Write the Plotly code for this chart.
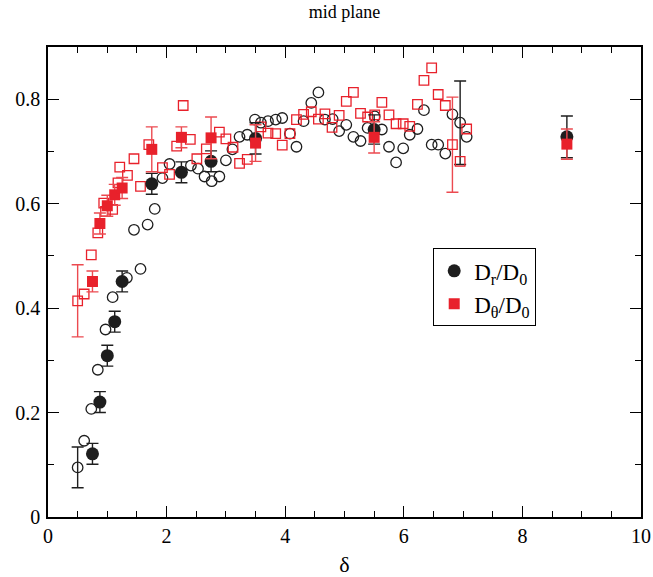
import plotly.graph_objects as go

# --- D_r / D_0 : individual measurements (open circles) ---
r_open_x = [0.50, 0.61, 0.73, 0.84, 0.97, 1.09, 1.33, 1.56, 1.45, 1.68, 1.80, 1.93,
            2.05, 2.41, 2.53, 2.64, 2.76, 2.89, 3.00, 3.11, 3.23, 3.36, 3.49, 3.59,
            3.71, 3.84, 3.95, 4.08, 4.19, 4.31, 4.44, 4.56, 4.67, 4.80, 4.91, 5.03,
            5.15, 5.27, 5.39, 5.51, 5.63, 5.75, 5.87, 5.99, 6.10, 6.23, 6.34, 6.47,
            6.58, 6.70, 6.82, 6.95, 7.06]
r_open_y = [0.095, 0.146, 0.207, 0.282, 0.359, 0.421, 0.458, 0.475, 0.550, 0.560, 0.590, 0.649,
            0.676, 0.673, 0.667, 0.652, 0.643, 0.652, 0.683, 0.704, 0.728, 0.732, 0.761, 0.755,
            0.758, 0.761, 0.764, 0.734, 0.709, 0.758, 0.793, 0.813, 0.761, 0.762, 0.739, 0.751,
            0.728, 0.720, 0.745, 0.767, 0.742, 0.709, 0.679, 0.706, 0.732, 0.743, 0.779, 0.713,
            0.713, 0.696, 0.771, 0.755, 0.728]
r_open_err = [0.039] + [0.0] * 50 + [0.080, 0.0]

# --- D_theta / D_0 : individual measurements (open squares) ---
t_open_x = [0.50, 0.61, 0.73, 0.84, 0.94, 0.97, 1.09, 1.18, 1.21, 1.34, 1.45, 1.56,
            1.70, 1.93, 2.05, 2.17, 2.28, 2.40, 2.51, 2.67, 2.89, 3.00, 3.12, 3.23,
            3.36, 3.59, 3.71, 3.84, 3.95, 4.08, 4.19, 4.31, 4.44, 4.56, 4.67, 4.79,
            4.91, 5.03, 5.15, 5.27, 5.39, 5.51, 5.63, 5.75, 5.87, 5.99, 6.10, 6.23,
            6.34, 6.47, 6.58, 6.70, 6.82, 6.95, 7.06]
t_open_y = [0.414, 0.427, 0.502, 0.544, 0.601, 0.585, 0.589, 0.640, 0.670, 0.654, 0.686, 0.633,
            0.713, 0.669, 0.656, 0.710, 0.788, 0.723, 0.686, 0.705, 0.737, 0.724, 0.708, 0.677,
            0.685, 0.747, 0.735, 0.734, 0.712, 0.734, 0.761, 0.771, 0.776, 0.762, 0.772, 0.746,
            0.769, 0.796, 0.813, 0.773, 0.766, 0.770, 0.794, 0.770, 0.753, 0.753, 0.748, 0.790,
            0.836, 0.860, 0.809, 0.788, 0.713, 0.681, 0.743]
t_open_err = [0.069] + [0.0] * 51 + [0.091, 0.0, 0.0]

# --- averaged values (filled symbols) ---
avg_x = [0.75, 0.875, 1.0, 1.125, 1.25, 1.75, 2.25, 2.75, 3.5, 5.5, 8.75]
r_avg_y = [0.121, 0.220, 0.309, 0.374, 0.451, 0.638, 0.660, 0.681, 0.725, 0.742, 0.728]
r_avg_err = [0.02, 0.02, 0.02, 0.02, 0.02, 0.02, 0.02, 0.02, 0.03, 0.028, 0.04]
t_avg_y = [0.451, 0.562, 0.596, 0.617, 0.630, 0.704, 0.727, 0.726, 0.716, 0.727, 0.714]
t_avg_err = [0.02, 0.02, 0.02, 0.02, 0.02, 0.043, 0.02, 0.04, 0.035, 0.03, 0.029]

title_text = "mid plane"
x_title = "δ"
legend_r = "D<sub>r</sub>/D<sub>0</sub>"
legend_t = "D<sub>θ</sub>/D<sub>0</sub>"

BLACK = "#1e1e1e"
RED = "#e8212b"
RED_ERR = "#ec4a50"
FONT = "Liberation Serif"

fig = go.Figure()


def split(xs, ys, errs):
    plain = [(x, y) for x, y, e in zip(xs, ys, errs) if e == 0]
    barred = [(x, y, e) for x, y, e in zip(xs, ys, errs) if e > 0]
    return plain, barred


# open circles
plain, barred = split(r_open_x, r_open_y, r_open_err)
fig.add_trace(go.Scatter(
    x=[p[0] for p in plain], y=[p[1] for p in plain], mode="markers",
    marker=dict(symbol="circle-open", size=10.5, color=BLACK, line=dict(width=1.3)),
    showlegend=False, hoverinfo="skip"))
fig.add_trace(go.Scatter(
    x=[p[0] for p in barred], y=[p[1] for p in barred], mode="markers",
    marker=dict(symbol="circle-open", size=10.5, color=BLACK, line=dict(width=1.3)),
    error_y=dict(type="data", array=[p[2] for p in barred], color=BLACK,
                 thickness=1.4, width=6),
    showlegend=False, hoverinfo="skip"))

# open squares
plain, barred = split(t_open_x, t_open_y, t_open_err)
fig.add_trace(go.Scatter(
    x=[p[0] for p in plain], y=[p[1] for p in plain], mode="markers",
    marker=dict(symbol="square-open", size=9.5, color=RED, line=dict(width=1.3)),
    showlegend=False, hoverinfo="skip"))
fig.add_trace(go.Scatter(
    x=[p[0] for p in barred], y=[p[1] for p in barred], mode="markers",
    marker=dict(symbol="square-open", size=9.5, color=RED, line=dict(width=1.3)),
    error_y=dict(type="data", array=[p[2] for p in barred], color=RED_ERR,
                 thickness=1.4, width=6),
    showlegend=False, hoverinfo="skip"))

# filled averages
fig.add_trace(go.Scatter(
    x=avg_x, y=r_avg_y, mode="markers", name=legend_r,
    marker=dict(symbol="circle", size=13, color=BLACK),
    error_y=dict(type="data", array=r_avg_err, color=BLACK, thickness=1.4, width=6)))
fig.add_trace(go.Scatter(
    x=avg_x, y=t_avg_y, mode="markers", name=legend_t,
    marker=dict(symbol="square", size=11, color=RED),
    error_y=dict(type="data", array=t_avg_err, color=RED_ERR, thickness=1.4, width=6)))

axis_common = dict(
    showgrid=False, zeroline=False, showline=True, linecolor="black", linewidth=1.6,
    mirror="allticks", ticks="inside", ticklen=11, tickwidth=1.2, tickcolor="black",
    tickfont=dict(family=FONT, size=20, color="black"), automargin=False,
)

fig.update_xaxes(range=[0, 10], dtick=2, tick0=0,
                 minor=dict(ticks="inside", ticklen=6, tickwidth=1.2, tickcolor="black", dtick=0.5),
                 title=dict(text=x_title, font=dict(family=FONT, size=22, color="black"), standoff=12),
                 **axis_common)
fig.update_yaxes(range=[0, 0.9], dtick=0.2, tick0=0,
                 minor=dict(ticks="inside", ticklen=6, tickwidth=1.2, tickcolor="black", dtick=0.1),
                 ticklabelstandoff=2,
                 **axis_common)

fig.update_layout(
    width=653, height=577,
    margin=dict(l=48, r=12, t=47, b=60),
    paper_bgcolor="white", plot_bgcolor="white",
    title=dict(text=title_text, x=0.5, xref="paper", xanchor="center",
               y=0.979, yref="container", yanchor="middle",
               font=dict(family=FONT, size=18, color="black")),
    legend=dict(x=0.6496, y=0.5716, xanchor="left", yanchor="top",
                bordercolor="black", borderwidth=1, bgcolor="white",
                font=dict(family=FONT, size=23, color="black")),
    showlegend=True,
)

fig.write_html("out.html")
